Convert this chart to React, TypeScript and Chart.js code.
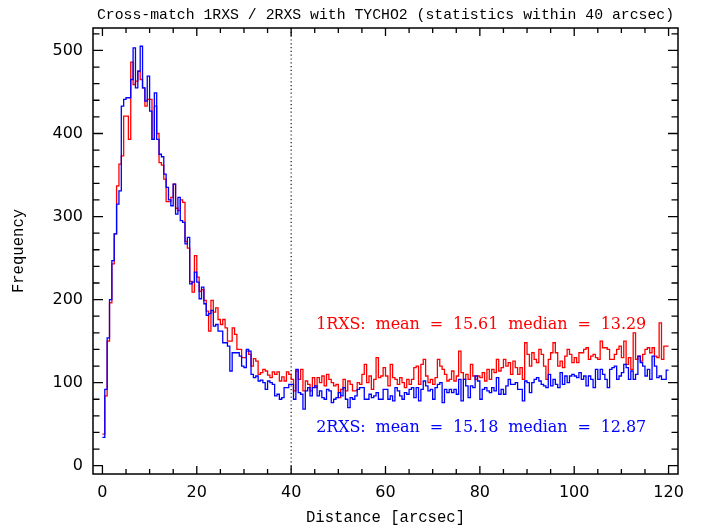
import { useEffect, useRef } from "react";
import { Chart, registerables } from "chart.js";

Chart.register(...registerables);

// Histogram of match distances, 0.5 arcsec bins from 0 to 120 arcsec
const BIN_WIDTH = 0.5;

const rxs1Counts = [
  38, 84, 150, 196, 243, 279, 337, 363, 373, 421, 421, 393, 486, 459, 463, 475, 465, 455, 433, 441, 441, 393, 433, 400,
  365, 362, 345, 318, 318, 323, 339, 310, 307, 320, 317, 270, 262, 222, 209, 253, 227, 210, 212, 199, 186, 162, 199, 185,
  190, 176, 170, 176, 166, 150, 150, 166, 158, 140, 140, 130, 130, 138, 134, 120, 129, 126, 110, 112, 116, 114, 109, 106, 113, 110, 113, 102, 107, 102, 113, 110,
  104, 90, 114, 104, 116, 90, 102, 98, 90, 106, 94, 106, 100, 108, 96, 110, 104, 100, 96, 98, 82, 92, 104, 90, 102, 98, 90, 90, 100, 98, 110, 122, 100, 108, 92, 104, 130, 106, 108, 118,
  108, 96, 122, 106, 104, 98, 106, 100, 94, 104, 98, 104, 118, 120, 98, 122, 128, 108, 100, 104, 98, 106, 128, 120, 116, 110, 102, 104, 114, 102, 108, 138, 112, 104, 110, 104, 122, 108, 104, 108,
  106, 112, 102, 116, 104, 116, 112, 128, 114, 118, 128, 120, 124, 110, 126, 118, 110, 118, 104, 148, 134, 120, 136, 128, 124, 140, 134, 120, 104, 128, 136, 148, 136, 120, 126, 118, 132, 140, 134, 124,
  130, 124, 136, 136, 140, 142, 128, 132, 134, 130, 128, 150, 142, 142, 140, 128, 128, 134, 140, 144, 130, 150, 122, 130, 116, 160, 128, 132, 126, 134, 140, 142, 136, 142, 132, 130, 172, 128, 144, 144,
];

const rxs2Counts = [
  34, 92, 154, 200, 247, 279, 315, 331, 433, 441, 443, 443, 465, 503, 455, 475, 505, 455, 439, 469, 427, 393, 449, 393,
  375, 372, 351, 335, 320, 313, 339, 303, 323, 295, 293, 267, 275, 219, 221, 233, 221, 201, 215, 195, 181, 183, 187, 168,
  170, 162, 162, 148, 148, 144, 114, 136, 136, 136, 132, 120, 118, 140, 138, 110, 106, 108, 102, 103, 100, 92, 102, 100, 98, 84, 86, 80, 82, 94, 94, 98,
  98, 80, 116, 88, 86, 68, 90, 94, 84, 94, 96, 84, 90, 82, 80, 92, 90, 76, 80, 82, 88, 84, 94, 80, 70, 82, 80, 84, 92, 94, 94, 80, 80, 86, 82, 84, 88, 80, 80, 92,
  92, 80, 84, 78, 94, 90, 84, 80, 88, 86, 92, 94, 82, 94, 78, 92, 102, 96, 90, 92, 80, 94, 98, 100, 76, 92, 88, 92, 88, 92, 86, 104, 78, 104, 96, 82, 96, 94, 108, 102,
  80, 92, 94, 90, 88, 94, 90, 106, 86, 92, 86, 96, 104, 98, 98, 100, 92, 92, 78, 102, 100, 88, 100, 104, 106, 102, 98, 96, 94, 110, 96, 104, 98, 94, 112, 98, 108, 100, 108, 110,
  108, 106, 112, 104, 108, 96, 108, 104, 94, 116, 104, 116, 110, 104, 94, 116, 118, 120, 104, 108, 112, 122, 118, 104, 114, 104, 110, 132, 124, 120, 108, 116, 104, 132, 120, 106, 108, 104, 104, 115,
];

const xTickValues = [0, 20, 40, 60, 80, 100, 120];
const yTickValues = [0, 100, 200, 300, 400, 500];
const X_MINOR_STEP = 5;
const Y_MINOR_STEP = 20;
const STATS_RADIUS = 40;

const titleText = "Cross-match 1RXS / 2RXS with TYCHO2 (statistics within 40 arcsec)";
const xAxisLabel = "Distance [arcsec]";
const yAxisLabel = "Frequency";

const statLines = [
  { name: "1RXS", mean: "15.61", median: "13.29", color: "#ff0000", x: 45.3, y: 165 },
  { name: "2RXS", mean: "15.18", median: "12.87", color: "#0000ff", x: 45.3, y: 41 },
];

const toSteps = (counts: number[]) => {
  const pts = counts.map((c, i) => ({ x: i * BIN_WIDTH, y: c }));
  pts.push({ x: counts.length * BIN_WIDTH, y: counts[counts.length - 1] });
  return pts;
};

const MONO = '"Liberation Mono", "DejaVu Sans Mono", monospace';
const SERIF = '"DejaVu Serif", "Liberation Serif", serif';

const framePlugin = {
  id: "pgFrame",
  beforeDatasetsDraw(chart: any) {
    const { ctx, chartArea, scales } = chart;
    const xp = scales.x.getPixelForValue(STATS_RADIUS);
    ctx.save();
    ctx.strokeStyle = "#000";
    ctx.lineWidth = 1.1;
    ctx.setLineDash([1.2, 2.6]);
    ctx.beginPath();
    ctx.moveTo(xp, chartArea.top);
    ctx.lineTo(xp, chartArea.bottom);
    ctx.stroke();
    ctx.restore();
  },
  afterDraw(chart: any) {
    const { ctx, chartArea, scales } = chart;
    const { left, right, top, bottom } = chartArea;
    const xs = scales.x;
    const ys = scales.y;
    ctx.save();
    ctx.strokeStyle = "#000";
    ctx.lineWidth = 1.5;
    ctx.strokeRect(left, top, right - left, bottom - top);

    // tick marks on all four sides, pointing inward
    ctx.lineWidth = 1.3;
    ctx.beginPath();
    for (let v = 0; v <= 120; v += X_MINOR_STEP) {
      const p = xs.getPixelForValue(v);
      const len = v % 20 === 0 ? 8 : 5;
      ctx.moveTo(p, bottom);
      ctx.lineTo(p, bottom - len);
      ctx.moveTo(p, top);
      ctx.lineTo(p, top + len);
    }
    for (let v = 0; v <= ys.max; v += Y_MINOR_STEP) {
      const p = ys.getPixelForValue(v);
      const len = v % 100 === 0 ? 10 : 6.5;
      ctx.moveTo(left, p);
      ctx.lineTo(left + len, p);
      ctx.moveTo(right, p);
      ctx.lineTo(right - len, p);
    }
    ctx.stroke();

    // title and axis labels
    ctx.fillStyle = "#000";
    ctx.textAlign = "center";
    ctx.textBaseline = "middle";
    ctx.font = `14.8px ${MONO}`;
    ctx.fillText(titleText, (left + right) / 2, 15);
    ctx.font = `15.6px ${MONO}`;
    ctx.fillText(xAxisLabel, (left + right) / 2, 518);
    ctx.save();
    ctx.translate(19, (top + bottom) / 2);
    ctx.rotate(-Math.PI / 2);
    ctx.fillText(yAxisLabel, 0, 0);
    ctx.restore();

    // summary statistics
    ctx.textAlign = "left";
    ctx.textBaseline = "alphabetic";
    ctx.font = `16px ${SERIF}`;
    for (const s of statLines) {
      const text = `${s.name}:  mean  =  ${s.mean}  median  =  ${s.median}`;
      const natural = ctx.measureText(text).width;
      const target = 330;
      const spacing = (target - natural) / (text.length - 1);
      (ctx as any).letterSpacing = `${spacing}px`;
      ctx.fillStyle = s.color;
      ctx.fillText(text, xs.getPixelForValue(s.x), ys.getPixelForValue(s.y));
      (ctx as any).letterSpacing = "0px";
    }
    ctx.restore();
  },
};

export default function App() {
  const canvasRef = useRef<HTMLCanvasElement | null>(null);

  useEffect(() => {
    const canvas = canvasRef.current;
    if (!canvas) return;
    const chart = new Chart(canvas, {
      type: "line",
      data: {
        datasets: [
          {
            label: "1RXS",
            data: toSteps(rxs1Counts),
            borderColor: "#ff0000",
            borderWidth: 1.3,
            stepped: "before",
            pointRadius: 0,
            fill: false,
            order: 1,
          },
          {
            label: "2RXS",
            data: toSteps(rxs2Counts),
            borderColor: "#0000ff",
            borderWidth: 1.3,
            stepped: "before",
            pointRadius: 0,
            fill: false,
            order: 0,
          },
        ],
      },
      options: {
        responsive: false,
        animation: false,
        events: [],
        layout: { padding: { top: 28, right: 29, left: 0, bottom: 0 } },
        plugins: {
          legend: { display: false },
          tooltip: { enabled: false },
          title: { display: false },
        },
        scales: {
          x: {
            type: "linear",
            min: -2,
            max: 122,
            grid: { display: false, drawTicks: false },
            border: { display: false },
            ticks: {
              color: "#000",
              font: { family: '"DejaVu Sans"', size: 16 },
              padding: 9,
              autoSkip: false,
              maxRotation: 0,
            },
            afterBuildTicks: (s: any) => {
              s.ticks = xTickValues.map((v) => ({ value: v }));
            },
            afterFit: (s: any) => {
              s.height = 58;
            },
          },
          y: {
            type: "linear",
            min: -10,
            max: 527,
            grid: { display: false, drawTicks: false },
            border: { display: false },
            ticks: {
              color: "#000",
              font: { family: '"DejaVu Sans"', size: 16 },
              padding: 10,
              autoSkip: false,
            },
            afterBuildTicks: (s: any) => {
              s.ticks = yTickValues.map((v) => ({ value: v }));
            },
            afterFit: (s: any) => {
              s.width = 93;
            },
          },
        },
      },
      plugins: [framePlugin],
    });
    return () => chart.destroy();
  }, []);

  return (
    <div style={{ position: "absolute", left: 0, top: 0, width: 707, height: 532, background: "#fff" }}>
      <canvas ref={canvasRef} width={707} height={532} />
    </div>
  );
}
